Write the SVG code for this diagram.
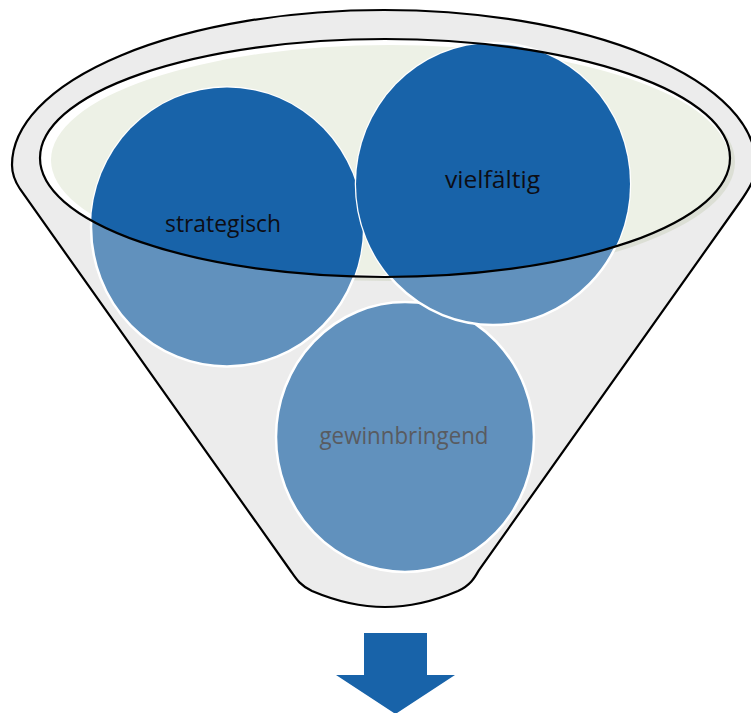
<svg xmlns="http://www.w3.org/2000/svg" width="751" height="713" viewBox="0 0 751 713">
  <style>
    .outline { fill: none; stroke: #000; stroke-width: 2.2; }
    .light { fill: #6191BD; stroke: #fff; stroke-width: 2.5; }
    .dark { fill: #1863A9; }
    .lbl { font-family: "Open Sans", "Liberation Sans", sans-serif; font-size: 23.5px; text-anchor: middle; }
    .lbl-dark { fill: #0d0d14; }
    .lbl-gray { fill: #595b60; }
  </style>
  <defs>
    <clipPath id="rim">
      <ellipse cx="385" cy="158" rx="345" ry="119"/>
    </clipPath>
    <path id="body" d="M12,165 A372,155 0 0 1 756,165 C756,178 749,189 740,202 L479,570 C475,577 471,585 458,591 C432,602 408,607 385,607 C362,607 338,602 312,591 C299,585 295,577 290,570 L20,189 C14,180 12,174 12,165 Z"/>
  </defs>
  <rect width="751" height="713" fill="#fff"/>

  <g id="funnel">
    <use href="#body" fill="#ECECEC"/>
    <ellipse cx="390" cy="162" rx="345" ry="119" fill="#DCDFD5"/>
    <ellipse cx="385" cy="158" rx="345" ry="119" fill="#ffffff"/>
    <ellipse cx="390" cy="160" rx="339" ry="115" fill="#EDF1E6"/>
  </g>

  <g id="node-gewinnbringend">
    <ellipse class="light" cx="405" cy="437" rx="129" ry="135"/>
    <ellipse class="dark" cx="405" cy="437" rx="129" ry="135" clip-path="url(#rim)"/>
    <text class="lbl lbl-gray" x="404" y="444" textLength="169" lengthAdjust="spacingAndGlyphs">gewinnbringend</text>
  </g>

  <g id="node-strategisch">
    <ellipse class="light" cx="227" cy="227" rx="136" ry="139.5"/>
    <ellipse class="dark" cx="227" cy="227" rx="136" ry="139.5" clip-path="url(#rim)"/>
    <text class="lbl lbl-dark" x="223" y="232" textLength="116" lengthAdjust="spacingAndGlyphs">strategisch</text>
  </g>

  <g id="node-vielfaeltig">
    <ellipse class="light" cx="493" cy="184" rx="137" ry="141"/>
    <ellipse class="dark" cx="493" cy="184" rx="137" ry="141" clip-path="url(#rim)"/>
    <text class="lbl lbl-dark" x="492.5" y="188" textLength="95" lengthAdjust="spacingAndGlyphs">vielfältig</text>
  </g>

  <g id="funnel-outlines">
    <use href="#body" class="outline"/>
    <ellipse class="outline" cx="385" cy="158" rx="345" ry="119"/>
  </g>

  <g id="connectors">
    <path d="M364,633 H427 V675 H455 L395.5,714 L336,675 H364 Z" fill="#1863A9"/>
  </g>
</svg>
